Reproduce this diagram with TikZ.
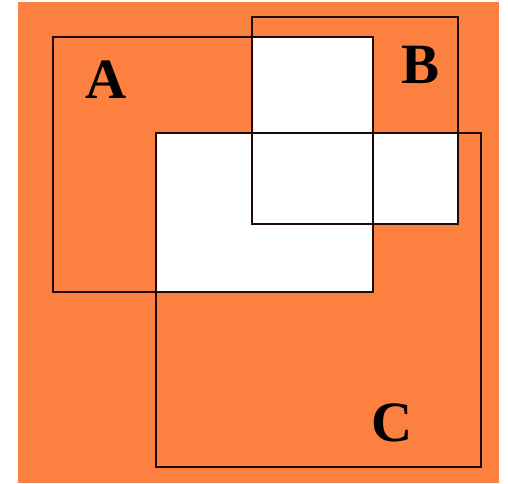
\documentclass[tikz,border=0pt]{standalone}
\usepackage{fontspec}
\setmainfont{Liberation Serif}
\usetikzlibrary{positioning}
\definecolor{bgorange}{RGB}{252,128,64}
\definecolor{edge}{RGB}{30,10,5}

\begin{document}
\begin{tikzpicture}[x=1pt, y=-1pt,
    setbox/.style={draw=edge, line width=1.8pt},
    overlap/.style={fill=white},
    letter/.style={font=\fontsize{57}{62}\selectfont\bfseries\color{black}, inner sep=0pt},
  ]
    \useasboundingbox (0,0) rectangle (508,483);
    \fill[bgorange] (18,2) rectangle (499,483);

    % corners of the three sets
    \coordinate (a1) at (53,37);   \coordinate (a2) at (373,292);
    \coordinate (b1) at (252,17);  \coordinate (b2) at (458,224);
    \coordinate (c1) at (156,133); \coordinate (c2) at (481,467);

    % regions shared by two or more sets
    \fill[overlap] (b1 |- a1) rectangle (a2 |- b2);
    \fill[overlap] (c1) rectangle (a2);
    \fill[overlap] (b1 |- c1) rectangle (b2);

    \draw[setbox] (a1) rectangle (a2);
    \draw[setbox] (b1) rectangle (b2);
    \draw[setbox] (c1) rectangle (c2);

    \node[letter] (labA) at (106,80) {A};
    \node[letter] (labB) at (421,65) {B};
    \node[letter] (labC) at (392,423) {C};
  \end{tikzpicture}
\end{document}
